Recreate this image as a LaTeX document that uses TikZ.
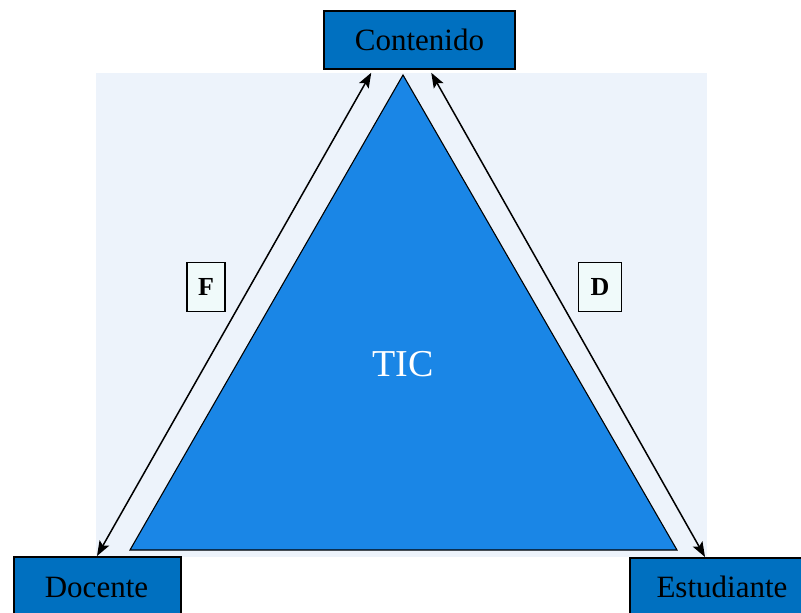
\documentclass[tikz,border=0pt]{standalone}
\usepackage{fontspec}
\setmainfont{Liberation Serif}
\usetikzlibrary{calc,arrows.meta}
\definecolor{boxblue}{RGB}{0,112,192}
\definecolor{triblue}{RGB}{26,134,230}
\definecolor{panel}{RGB}{237,243,251}
\definecolor{labfill}{RGB}{240,250,250}
\tikzset{
  corner/.style={draw=black, line width=1.5pt, fill=boxblue, inner sep=0pt,
    font=\fontsize{31}{36}\selectfont, text=black},
  lab/.style={draw=black, line width=1.6pt, fill=labfill, inner sep=0pt,
    minimum width=38pt, minimum height=49pt, font=\fontsize{26}{30}\selectfont\bfseries},
  rel/.style={<->, line width=1.5pt, >={Stealth[length=15pt,width=11pt,inset=3pt]}}
}
\begin{document}
\begin{tikzpicture}[x=1pt,y=-1pt]
\clip (0,0) rectangle (801,613);
\fill[white] (0,0) rectangle (801,613);
\fill[panel] (96,73) rectangle (707,557);
% triangle
\draw[fill=triblue, line width=1.1pt] (403,75) -- (677,550) -- (130,550) -- cycle;
\node[text=white, font=\fontsize{38}{42}\selectfont] (tic) at (403,364) {TIC};
% corner boxes
\node[corner, minimum width=191pt, minimum height=58pt] (con) at (419.5,40) {Contenido};
\node[corner, minimum width=167pt, minimum height=80pt, anchor=north west] (doc) at (13,556) {};
\node[corner, minimum width=190pt, minimum height=80pt, anchor=north west] (est) at (629,557) {};
\node[font=\fontsize{31}{36}\selectfont, anchor=base] (doct) at (96.5,597) {Docente};
\node[font=\fontsize{31}{36}\selectfont, anchor=base west] (estt) at (653,597) {Estudiante};
% relation arrows
\draw[rel] ($(doc.north west)+(84,0)$) -- ($(con.south west)+(48,3)$);
\draw[rel] ($(con.south west)+(108,3)$) -- ($(est.north west)+(76,0)$);
% labels
\node[lab] (f) at (206,287) {F};
\node[lab, minimum width=43pt] (d) at (600,287) {D};
\end{tikzpicture}
\end{document}
